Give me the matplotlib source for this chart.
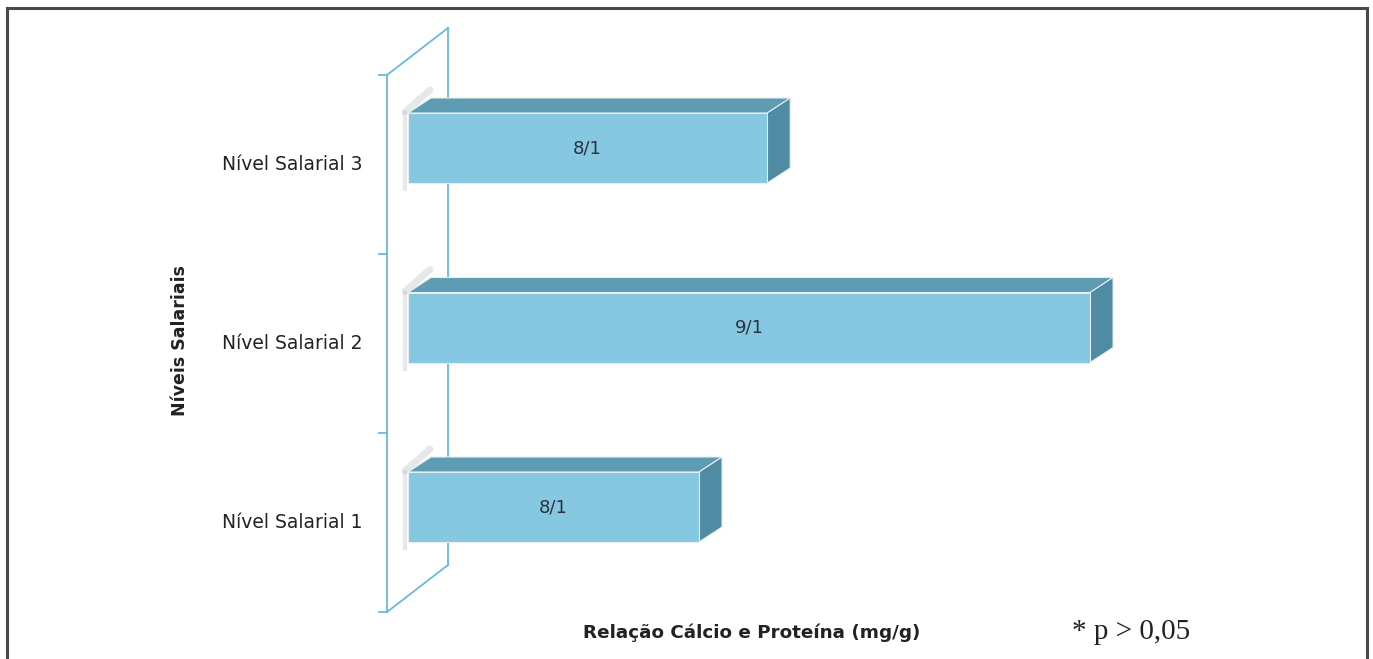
import matplotlib
matplotlib.use('Agg')
import matplotlib.pyplot as plt
from matplotlib.patches import Polygon
from matplotlib.lines import Line2D

# ---- data ----
categories = ['Nível Salarial 1', 'Nível Salarial 2', 'Nível Salarial 3']
values = [8.34, 9.20, 8.49]
value_labels = ['8/1', '9/1', '8/1']
x_min = 7.7
y_title = 'Níveis Salariais'
x_title = 'Relação Cálcio e Proteína (mg/g)'
note = '* p > 0,05'

# ---- layout ----
W, H = 1373, 659
ppu_x = 454.7      # pixels per value unit
ppu_y = 179.5      # pixels per category
x0_px = 408        # pixel of x_min
y0_px = 507        # pixel (from top) of first category centre

fig = plt.figure(figsize=(W / 100, H / 100), dpi=100)
ax = fig.add_axes([0, 0, 1, 1])
ax.set_xlim(x_min - x0_px / ppu_x, x_min + (W - x0_px) / ppu_x)
ax.set_ylim(-(H - y0_px) / ppu_y, y0_px / ppu_y)
ax.axis('off')

def dx(p):
    return p / ppu_x

def dy(p):
    return p / ppu_y

wall_col = '#6BB8DA'
front_col = '#86C7E1'
top_col = '#5E9CB3'
side_col = '#4F8BA2'
edge_col = '#E8EEF0'

# ---- back wall ----
wx = x_min - dx(21)
yTop = dy(432)
yBot = -dy(105)
wdx, wdy = dx(61), dy(47)
lw_w = 1.3
ax.plot([wx, wx], [yBot, yTop], color=wall_col, lw=lw_w)
ax.plot([wx + wdx, wx + wdx], [yBot + wdy, yTop + wdy], color=wall_col, lw=lw_w)
ax.plot([wx, wx + wdx], [yTop, yTop + wdy], color=wall_col, lw=lw_w)
ax.plot([wx, wx + wdx], [yBot, yBot + wdy], color=wall_col, lw=lw_w)
tier = (yTop - yBot) / 3
for k in range(4):
    yy = yBot + k * tier
    ax.plot([wx - dx(8), wx], [yy, yy], color=wall_col, lw=lw_w)

# ---- bars ----
h = dy(35)
ddx, ddy = dx(23), dy(15)
for i, (v, lab) in enumerate(zip(values, value_labels)):
    yc = i
    # soft shadow at the base
    ax.plot([x_min - dx(3), x_min + dx(22)], [yc + h + dy(1), yc + h + ddy + dy(8)],
            color='#9AA4A8', lw=5, alpha=0.25, solid_capstyle='round', zorder=1)
    ax.plot([x_min - dx(3), x_min - dx(3)], [yc - h - dy(6), yc + h],
            color='#B0B6B8', lw=3, alpha=0.3, zorder=1)
    top = Polygon([(x_min, yc + h), (v, yc + h), (v + ddx, yc + h + ddy),
                   (x_min + ddx, yc + h + ddy)], closed=True,
                  facecolor=top_col, edgecolor=edge_col, lw=0.8, zorder=2)
    side = Polygon([(v, yc - h), (v + ddx, yc - h + ddy), (v + ddx, yc + h + ddy),
                    (v, yc + h)], closed=True,
                   facecolor=side_col, edgecolor=edge_col, lw=0.8, zorder=2)
    front = Polygon([(x_min, yc - h), (v, yc - h), (v, yc + h), (x_min, yc + h)],
                    closed=True, facecolor=front_col, edgecolor=edge_col, lw=0.8, zorder=3)
    ax.add_patch(top)
    ax.add_patch(side)
    ax.add_patch(front)
    ax.text((x_min + v) / 2, yc, lab, ha='center', va='center', fontsize=13,
            color='#2A3440', zorder=4)

# ---- category labels ----
for i, c in enumerate(categories):
    ax.text(x_min - dx(46), yBot + (i + 0.5) * tier, c, ha='right', va='center',
            fontsize=13.5, color='#222222')

# ---- titles ----
fig.text(180 / W, 1 - 340 / H, y_title, rotation=90, ha='center', va='center',
         fontsize=12.5, fontweight='bold', color='#222222')
fig.text(752 / W, 1 - 633 / H, x_title, ha='center', va='center',
         fontsize=13.2, fontweight='bold', color='#222222')
fig.text(1131 / W, 1 - 632 / H, note, ha='center', va='center',
         fontsize=21, family='Liberation Serif', color='#222222')

# ---- outer frame ----
fc = '#4A4A4A'
fig.add_artist(Line2D([7 / W, 7 / W], [0, 1 - 8 / H], color=fc, lw=2.2))
fig.add_artist(Line2D([7 / W, 1367 / W], [1 - 8 / H, 1 - 8 / H], color=fc, lw=2.2))
fig.add_artist(Line2D([1367 / W, 1367 / W], [0, 1 - 8 / H], color=fc, lw=2.2))

fig.savefig('out.png', dpi=100, facecolor='white')
